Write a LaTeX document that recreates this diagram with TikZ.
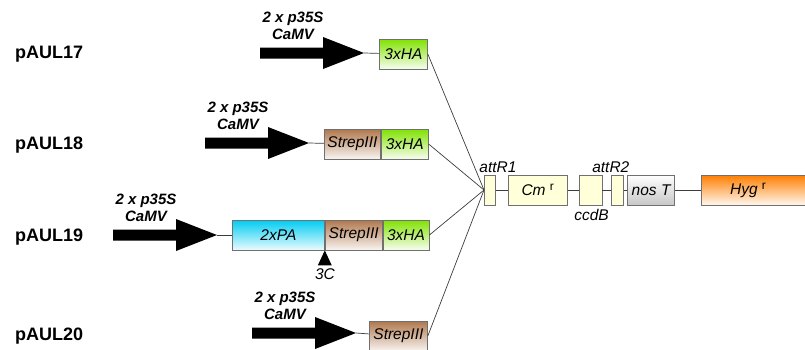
\documentclass[tikz,border=0pt]{standalone}
\usepackage{fontspec}
\setmainfont{Liberation Sans}
\usetikzlibrary{positioning}

\definecolor{hagreen}{RGB}{128,226,0}
\definecolor{strepbrown}{RGB}{176,120,78}
\definecolor{pacyan}{RGB}{0,204,242}
\definecolor{attcream}{RGB}{255,255,218}
\definecolor{hygorange}{RGB}{255,126,0}
\definecolor{boxline}{RGB}{112,112,112}
\definecolor{linkgray}{RGB}{60,60,60}

\newcommand{\resist}{~\raisebox{5pt}{\upshape\fontsize{12}{12}\selectfont r}}

\tikzset{
  x=1pt, y=-1pt,
  tag/.style={draw=boxline, line width=0.8pt, minimum height=30pt, inner sep=0pt,
    font=\fontsize{15.5}{18}\selectfont\itshape},
  tagtext/.style={inner sep=0pt, font=\fontsize{15.5}{18}\selectfont\itshape},
  plasmid/.style={inner sep=0pt, font=\fontsize{18}{21}\selectfont\bfseries},
  promtext/.style={inner sep=0pt, align=center,
    font=\fontsize{15}{17}\selectfont\bfseries\itshape},
  hafill/.style={top color=hagreen, bottom color=hagreen!6},
  strepfill/.style={top color=strepbrown, bottom color=strepbrown!8},
  pafill/.style={top color=pacyan, bottom color=pacyan!8},
  attfill/.style={fill=attcream},
  nosfill/.style={top color=white, bottom color=black!22},
  hygfill/.style={top color=hygorange, bottom color=hygorange!6},
  link/.style={linkgray, line width=0.7pt},
  promoter/.pic={
    \fill (0,-5.5) -- (63,-5.5) -- (63,-16) -- (104,0) -- (63,16) -- (63,5.5)
      -- (0,5.5) -- cycle;
    \coordinate (-tip) at (104,0);
    \node[promtext] at (33,-27) {2 x p35S\\CaMV};
  },
}

\begin{document}
\begin{tikzpicture}
  \useasboundingbox (0,0) rectangle (805,349);

  % construct names
  \node[plasmid, anchor=base west] (pAUL17) at (15,58) {pAUL17};
  \node[plasmid, anchor=base west] (pAUL18) at (15,149) {pAUL18};
  \node[plasmid, anchor=base west] (pAUL19) at (15,241) {pAUL19};
  \node[plasmid, anchor=base west] (pAUL20) at (15,340) {pAUL20};

  % pAUL17
  \pic (p17) at (260,53) {promoter};
  \node[tag, hafill, minimum width=48pt, anchor=west] (ha17) at (379,54) {3xHA};
  \draw[link] (p17-tip) -- (ha17);

  % pAUL18
  \pic (p18) at (205,143) {promoter};
  \node[tag, strepfill, minimum width=56pt, anchor=west] (strep18) at (324,144) {StrepIII};
  \node[tag, hafill, minimum width=47pt, right=0pt of strep18] (ha18) {3xHA};
  \draw[link] (p18-tip) -- (strep18);

  % pAUL19
  \pic (p19) at (113,235) {promoter};
  \node[tag, pafill, minimum width=92pt, anchor=west] (pa19) at (232,235) {2xPA};
  \node[tag, strepfill, minimum width=57pt, right=0pt of pa19] (strep19) {StrepIII};
  \node[tag, hafill, minimum width=46pt, right=0pt of strep19] (ha19) {3xHA};
  \draw[link] (p19-tip) -- (pa19);
  \fill (pa19.south east) -- ++(-7,15) -- ++(14,0) -- cycle;
  \node[tagtext] (cut3c) at (325,274) {3C};

  % pAUL20
  \pic (p20) at (252,333) {promoter};
  \node[tag, strepfill, minimum width=58pt, anchor=west] (strep20) at (369,336) {StrepIII};
  \draw[link] (p20-tip) -- (strep20);

  % gateway cassette
  \node[tag, attfill, minimum width=11pt, anchor=west] (attr1) at (484,190) {};
  \node[tag, attfill, minimum width=59pt, right=12pt of attr1] (cm) {Cm\resist};
  \node[tag, attfill, minimum width=23pt, right=11pt of cm] (ccdb) {};
  \node[tag, attfill, minimum width=12pt, right=9pt of ccdb] (attr2) {};
  \node[tag, nosfill, minimum width=47pt, right=3pt of attr2] (nos) {nos T};
  \node[tag, hygfill, minimum width=125pt, right=26pt of nos] (hyg) {};
  \node[tagtext] (hygtext) at ([xshift=47pt]hyg.west) {Hyg\resist};
  \node[tagtext, above=2pt of attr1, xshift=8pt] (attr1text) {attR1};
  \node[tagtext, above=2pt of attr2, xshift=-7pt] (attr2text) {attR2};
  \node[tagtext, below=4pt of ccdb, xshift=1pt] (ccdbtext) {ccdB};
  \draw[link] (attr1) -- (cm);
  \draw[link] (cm) -- (ccdb);
  \draw[link] (ccdb) -- (attr2);
  \draw[link] (attr2) -- (nos);
  \draw[link] (nos) -- (hyg);

  % joins to attR1
  \draw[link] (ha17.east) -- (attr1.west);
  \draw[link] (ha18.east) -- (attr1.west);
  \draw[link] (ha19.east) -- (attr1.west);
  \draw[link] (strep20.east) -- (attr1.west);
\end{tikzpicture}
\end{document}
